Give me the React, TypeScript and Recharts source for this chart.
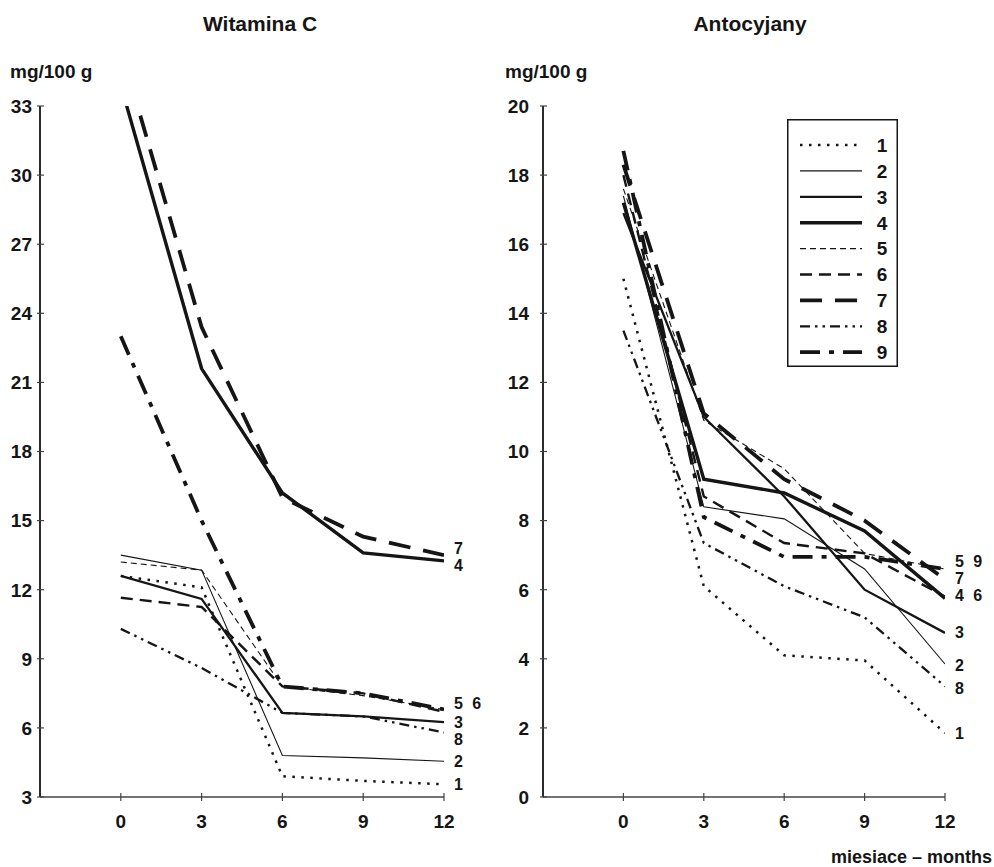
import React from 'react';
import { LineChart, Line, XAxis, YAxis, Legend } from 'recharts';

document.body.style.margin = '0';

const months = [0, 3, 6, 9, 12];
const seriesNames = ['1', '2', '3', '4', '5', '6', '7', '8', '9'];

// Witamina C, mg/100 g
const vitC1 = [12.6, 12.1, 3.9, 3.7, 3.55];
const vitC2 = [13.5, 12.85, 4.8, 4.7, 4.55];
const vitC3 = [12.6, 11.6, 6.65, 6.5, 6.25];
const vitC4 = [33.9, 21.6, 16.2, 13.6, 13.25];
const vitC5 = [13.2, 12.85, 7.8, 7.4, 6.8];
const vitC6 = [11.65, 11.25, 7.8, 7.5, 6.7];
const vitC7 = [35.5, 23.4, 16.0, 14.3, 13.5];
const vitC8 = [10.3, 8.6, 6.65, 6.5, 5.8];
const vitC9 = [23.0, 15.0, 7.8, 7.5, 6.8];
const vitCTicks = [3, 6, 9, 12, 15, 18, 21, 24, 27, 30, 33];

// Antocyjany, mg/100 g
const ant1 = [15.0, 6.1, 4.1, 3.95, 1.85];
const ant2 = [17.4, 8.4, 8.05, 6.6, 3.85];
const ant3 = [16.9, 11.0, 8.7, 6.0, 4.75];
const ant4 = [17.2, 9.2, 8.8, 7.7, 5.75];
const ant5 = [17.6, 10.9, 9.5, 7.05, 6.6];
const ant6 = [18.0, 8.7, 7.35, 7.05, 5.8];
const ant7 = [18.3, 11.1, 9.2, 8.0, 6.3];
const ant8 = [13.5, 7.35, 6.1, 5.2, 3.2];
const ant9 = [18.7, 8.1, 6.95, 6.95, 6.6];
const antTicks = [0, 2, 4, 6, 8, 10, 12, 14, 16, 18, 20];

const monthTicks = [0, 3, 6, 9, 12];

// end-of-line labels (text per series; empty = no label)
const vitCEndLabels = ['1', '2', '3', '4', '5 6', '', '7', '8', ''];
const antEndLabels = ['1', '2', '3', '4 6', '5 9', '', '7', '8', ''];

const vitCSeries = [vitC1, vitC2, vitC3, vitC4, vitC5, vitC6, vitC7, vitC8, vitC9];
const antSeries = [ant1, ant2, ant3, ant4, ant5, ant6, ant7, ant8, ant9];

const buildRows = (series: number[][]) =>
  months.map((m, i) => {
    const row: Record<string, number> = { month: m };
    series.forEach((s, k) => {
      row['s' + seriesNames[k]] = s[i];
    });
    return row;
  });

const vitCData = buildRows(vitCSeries);
const antData = buildRows(antSeries);

const INK = '#151515';
const FONT = '"Liberation Sans", Arial, Helvetica, sans-serif';

const lineStyles: Record<string, { strokeWidth: number; strokeDasharray?: string }> = {
  '1': { strokeWidth: 2.5, strokeDasharray: '2.5 6.5' },
  '2': { strokeWidth: 1.1 },
  '3': { strokeWidth: 2.3 },
  '4': { strokeWidth: 3.4 },
  '5': { strokeWidth: 1.1, strokeDasharray: '6 4' },
  '6': { strokeWidth: 2.4, strokeDasharray: '12 7' },
  '7': { strokeWidth: 3.8, strokeDasharray: '22 13' },
  '8': { strokeWidth: 2.3, strokeDasharray: '10 5 2.5 5 2.5 5' },
  '9': { strokeWidth: 3.8, strokeDasharray: '20 9 5 9' },
};

// vertical nudges of the end labels, px
const vitCLabelDy = [0, 0, 0, 4, -6, 0, -7, 7, 0];
const antLabelDy = [0, 1, -1, -3, -8, 0, -1, 2, 0];

const tickText = { fontFamily: FONT, fontSize: 19, fontWeight: 700, fill: INK };
const endText = { fontFamily: FONT, fontSize: 16, fontWeight: 700, fill: INK, wordSpacing: 5 };

const MonthTick = (props: any) => {
  const { x, y, payload } = props;
  return (
    <g>
      <line x1={x} x2={x} y1={y - 4} y2={y + 4} stroke="#444" strokeWidth={1.2} />
      <text x={x} y={y + 31} textAnchor="middle" style={tickText}>
        {payload.value}
      </text>
    </g>
  );
};

const makeValueTick = (gap: number) => (props: any) => {
  const { x, y, payload } = props;
  return (
    <g>
      <line x1={x - 3} x2={x + 4} y1={y} y2={y} stroke="#444" strokeWidth={1.2} />
      <text x={x - gap} y={y} dy="0.36em" textAnchor="end" style={tickText}>
        {payload.value}
      </text>
    </g>
  );
};

const makeEndLabel = (text: string, dy: number) => (props: any) => {
  const { x, y, index } = props;
  if (!text || index !== months.length - 1) return null;
  return (
    <text x={x + 10} y={y + dy} dy="0.36em" style={endText}>
      {text}
    </text>
  );
};

const renderLegend = () => (
  <svg width={111} height={248} style={{ display: 'block' }}>
    <rect x={0.75} y={0.75} width={109.5} height={246.5} fill="#fff" stroke={INK} strokeWidth={1.5} />
    {seriesNames.map((n, i) => {
      const y = 26 + i * 25.9;
      const st = lineStyles[n];
      return (
        <g key={n}>
          <line
            x1={13}
            x2={75}
            y1={y}
            y2={y}
            stroke={INK}
            strokeWidth={st.strokeWidth}
            strokeDasharray={st.strokeDasharray}
          />
          <text x={95} y={y} dy="0.36em" textAnchor="middle" style={tickText}>
            {n}
          </text>
        </g>
      );
    })}
  </svg>
);

function Panel(props: {
  data: Record<string, number>[];
  domain: [number, number];
  ticks: number[];
  width: number;
  yWidth: number;
  right: number;
  gap: number;
  endLabels: string[];
  labelDy: number[];
  legend?: boolean;
}) {
  const { data, domain, ticks, width, yWidth, right, gap, endLabels, labelDy, legend } = props;
  return (
    <LineChart width={width} height={867} data={data} margin={{ top: 106, right, bottom: 30, left: 0 }}>
      <XAxis
        dataKey="month"
        type="number"
        domain={[-3, 12]}
        ticks={monthTicks}
        tickSize={0}
        tickMargin={0}
        tickLine={false}
        tick={<MonthTick />}
        height={40}
        stroke="#444"
        strokeWidth={1.3}
        allowDataOverflow
      />
      <YAxis
        type="number"
        domain={domain}
        ticks={ticks}
        tickSize={0}
        tickMargin={0}
        tickLine={false}
        tick={makeValueTick(gap)}
        width={yWidth}
        stroke={INK}
        strokeWidth={1.8}
        allowDataOverflow
      />
      {seriesNames.map((n, k) => (
        <Line
          key={n}
          type="linear"
          dataKey={'s' + n}
          name={n}
          stroke={INK}
          strokeWidth={lineStyles[n].strokeWidth}
          strokeDasharray={lineStyles[n].strokeDasharray}
          dot={false}
          activeDot={false}
          isAnimationActive={false}
          label={makeEndLabel(endLabels[k], labelDy[k])}
        />
      ))}
      {legend && (
        <Legend
          layout="vertical"
          align="center"
          verticalAlign="middle"
          content={renderLegend}
          wrapperStyle={{ position: 'absolute', left: 297, top: 119, width: 111, height: 248 }}
        />
      )}
    </LineChart>
  );
}

const textBase: React.CSSProperties = {
  position: 'absolute',
  fontFamily: FONT,
  color: INK,
  lineHeight: '1',
  whiteSpace: 'nowrap',
};

export default function App() {
  return (
    <div style={{ position: 'relative', width: 994, height: 867, overflow: 'hidden', background: '#fff' }}>
      <div style={{ position: 'absolute', left: 0, top: 0 }}>
        <Panel
          data={vitCData}
          domain={[3, 33]}
          ticks={vitCTicks}
          width={490}
          yWidth={40}
          right={46}
          gap={8}
          endLabels={vitCEndLabels}
          labelDy={vitCLabelDy}
        />
      </div>
      <div style={{ position: 'absolute', left: 490, top: 0 }}>
        <Panel
          data={antData}
          domain={[0, 20]}
          ticks={antTicks}
          width={504}
          yWidth={53}
          right={49}
          gap={14}
          endLabels={antEndLabels}
          labelDy={antLabelDy}
          legend
        />
      </div>
      <div style={{ ...textBase, left: 160, width: 200, top: 13, textAlign: 'center', fontSize: 21, fontWeight: 700 }}>
        Witamina C
      </div>
      <div style={{ ...textBase, left: 650, width: 200, top: 13, textAlign: 'center', fontSize: 21, fontWeight: 700 }}>
        Antocyjany
      </div>
      <div style={{ ...textBase, left: 10, top: 62, fontSize: 19, fontWeight: 700 }}>mg/100 g</div>
      <div style={{ ...textBase, left: 505, top: 62, fontSize: 19, fontWeight: 700 }}>mg/100 g</div>
      <div style={{ ...textBase, right: 2, top: 848, fontSize: 18, fontWeight: 700 }}>miesiace – months</div>
    </div>
  );
}
